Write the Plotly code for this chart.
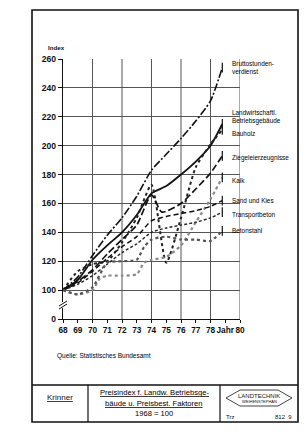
import plotly.graph_objects as go

# ---------------- data ----------------
series_names = ["Bruttostunden-<br>verdienst", "Landwirtschaftl.<br>Betriebsgebäude", "Bauholz",
                "Ziegeleierzeugnisse", "Kalk", "Sand und Kies", "Transportbeton", "Betonstahl"]

years_brutto = [68, 69, 70, 71, 72, 73, 74, 75, 76, 77, 78, 78.8]
vals_brutto = [100, 109, 124, 138, 150, 165, 183, 194, 205, 217, 231, 254]

years_landw = [68, 69, 70, 71, 72, 73, 74, 75, 76, 77, 78, 78.8]
vals_landw = [100, 107, 121, 131, 140, 152, 167, 172, 180, 189, 200, 215]

years_bauholz = [68, 69, 70, 71, 72, 73, 74, 75, 76, 77, 78, 78.8]
vals_bauholz = [100, 113, 118, 120, 133, 150, 173, 119, 150, 185, 201, 211]

years_ziegel = [68, 69, 70, 71, 72, 73, 74, 74.7, 76, 77, 78, 78.8]
vals_ziegel = [100, 106, 114, 125, 135, 145, 166, 154, 160, 170, 181, 193]

years_kalk = [68, 69, 70, 70.5, 71, 72, 73, 73.5, 74, 75, 76, 77, 78, 78.8]
vals_kalk = [100, 97, 100, 108, 110, 110, 111, 119, 121, 123, 131, 147, 163, 178]

years_sand = [68, 69, 70, 71, 72, 73, 74, 75, 76, 77, 78, 78.8]
vals_sand = [100, 105, 113, 122, 130, 137, 148, 151, 153, 155, 158, 162]

years_transp = [68, 69, 70, 71, 72, 73, 74, 75, 76, 77, 78, 78.8]
vals_transp = [100, 104, 110, 118, 126, 132, 140, 143, 145, 147, 150, 154]

years_stahl = [68, 69, 70, 71, 72, 73, 73.5, 74, 75, 76, 77, 78, 78.8]
vals_stahl = [100, 97, 102, 119, 120, 121, 130, 135, 137, 135, 135, 134, 141]

x_tickvals = [68, 69, 70, 71, 72, 73, 74, 75, 76, 77, 78, 79, 80]
x_ticktext = ["68", "69", "70", "71", "72", "73", "74", "75", "76", "77", "78", "Jahr", "80"]
y_tickvals = [80, 100, 120, 140, 160, 180, 200, 220, 240, 260]
y_ticktext = ["0", "100", "120", "140", "160", "180", "200", "220", "240", "260"]

# ---------------- styles ----------------
W, H = 306, 432
L, R, T, B = 63, 66, 59, 113
PW, PH = W - L - R, H - T - B
FONT = "Liberation Sans, Arial, sans-serif"


def px(xp):
    return (xp - L) / PW


def py(yp):
    return (H - B - yp) / PH


styles = [
    dict(color="#111", width=1.6, dash="8px,2px,2px,2px"),
    dict(color="#111", width=1.8, dash="solid"),
    dict(color="#222", width=2.0, dash="dot"),
    dict(color="#111", width=1.7, dash="7px,3px"),
    dict(color="#8a8a8a", width=2.2, dash="dot"),
    dict(color="#111", width=1.5, dash="5px,3px"),
    dict(color="#222", width=1.4, dash="3px,2px"),
    dict(color="#555", width=2.2, dash="dot"),
]
series = [
    (years_brutto, vals_brutto), (years_landw, vals_landw), (years_bauholz, vals_bauholz),
    (years_ziegel, vals_ziegel), (years_kalk, vals_kalk), (years_sand, vals_sand),
    (years_transp, vals_transp), (years_stahl, vals_stahl),
]
label_ypx = [58, 107, 133, 157, 180, 200, 214, 230]

fig = go.Figure()
for (xs, ys), st, name in zip(series, styles, series_names):
    fig.add_trace(go.Scatter(x=xs, y=ys, mode="lines", line=dict(shape="spline", smoothing=0.6, **st),
                             name=name, showlegend=False, hoverinfo="skip"))
    fig.add_trace(go.Scatter(x=[xs[-1]], y=[ys[-1]], mode="markers",
                             marker=dict(symbol="line-ns", size=7, line=dict(width=1.2, color="#111")),
                             showlegend=False, hoverinfo="skip"))

annotations = []
for name, yp in zip(series_names, label_ypx):
    two = "<br>" in name
    annotations.append(dict(x=px(230), y=py(yp - (0 if two else 5)), xref="paper", yref="paper",
                            text=name, showarrow=False, xanchor="left", yanchor="top",
                            align="left", font=dict(family=FONT, size=6.4, color="#000")))

annotations += [
    dict(x=px(46), y=py(48), xref="paper", yref="paper", text="<b>Index</b>", showarrow=False,
         xanchor="left", yanchor="middle", font=dict(family=FONT, size=6.2, color="#111")),
    dict(x=px(55), y=py(356), xref="paper", yref="paper", text="Quelle: Statistisches Bundesamt",
         showarrow=False, xanchor="left", yanchor="middle", font=dict(family=FONT, size=6.5, color="#000")),
    dict(x=px(60), y=py(397), xref="paper", yref="paper", text="<u>Krinner</u>", showarrow=False,
         xanchor="center", yanchor="middle", font=dict(family=FONT, size=8, color="#111")),
    dict(x=px(154), y=py(393), xref="paper", yref="paper", text="<u>Preisindex f. Landw. Betriebsge-</u>",
         showarrow=False, xanchor="center", yanchor="middle", font=dict(family=FONT, size=7.6, color="#000")),
    dict(x=px(154), y=py(403), xref="paper", yref="paper", text="<u>bäude u. Preisbest. Faktoren</u>",
         showarrow=False, xanchor="center", yanchor="middle", font=dict(family=FONT, size=7.6, color="#000")),
    dict(x=px(154), y=py(413), xref="paper", yref="paper", text="1968 = 100",
         showarrow=False, xanchor="center", yanchor="middle", font=dict(family=FONT, size=7.6, color="#000")),
    dict(x=px(259), y=py(395.5), xref="paper", yref="paper", text="LANDTECHNIK",
         showarrow=False, xanchor="center", yanchor="middle", font=dict(family=FONT, size=6, color="#111")),
    dict(x=px(259), y=py(401), xref="paper", yref="paper", text="WEIHENSTEPHAN",
         showarrow=False, xanchor="center", yanchor="middle", font=dict(family=FONT, size=4, color="#111")),
    dict(x=px(224), y=py(417), xref="paper", yref="paper", text="Trz",
         showarrow=False, xanchor="left", yanchor="middle", font=dict(family=FONT, size=6, color="#111")),
    dict(x=px(294), y=py(417), xref="paper", yref="paper", text="812  9",
         showarrow=False, xanchor="right", yanchor="middle", font=dict(family=FONT, size=6, color="#111")),
]

shapes = []
for gx in [70, 72, 74, 76, 78, 80]:
    shapes.append(dict(type="line", xref="x", yref="y", x0=gx, x1=gx, y0=80, y1=260,
                       line=dict(color="#555", width=1), layer="below"))
shapes += [
    dict(type="rect", xref="paper", yref="paper", x0=px(32), x1=px(298), y0=py(422), y1=py(10),
         line=dict(color="#111", width=1.6)),
    dict(type="line", xref="paper", yref="paper", x0=px(32), x1=px(298), y0=py(385), y1=py(385),
         line=dict(color="#111", width=1.4)),
    dict(type="line", xref="paper", yref="paper", x0=px(88), x1=px(88), y0=py(385), y1=py(422),
         line=dict(color="#111", width=1.2)),
    dict(type="line", xref="paper", yref="paper", x0=px(220), x1=px(220), y0=py(385), y1=py(422),
         line=dict(color="#111", width=1.2)),
    dict(type="path", xref="paper", yref="paper",
         path="M {} {} L {} {} L {} {} L {} {} L {} {} L {} {} Z".format(
             px(226), py(398), px(240), py(390), px(278), py(390), px(292), py(398),
             px(278), py(406), px(240), py(406)),
         line=dict(color="#111", width=0.8)),
    dict(type="rect", xref="paper", yref="paper", x0=px(60), x1=px(66), y0=py(308), y1=py(302),
         fillcolor="white", line=dict(width=0)),
    dict(type="line", xref="paper", yref="paper", x0=px(59), x1=px(67), y0=py(306), y1=py(301),
         line=dict(color="#111", width=1)),
    dict(type="line", xref="paper", yref="paper", x0=px(59), x1=px(67), y0=py(309), y1=py(304),
         line=dict(color="#111", width=1)),
]

fig.update_layout(
    width=W, height=H, margin=dict(l=L, r=R, t=T, b=B),
    paper_bgcolor="white", plot_bgcolor="white",
    xaxis=dict(range=[68, 80], tickvals=x_tickvals, ticktext=["<b>" + t + "</b>" for t in x_ticktext],
               showgrid=False, showline=True, linecolor="#111", linewidth=1.4, ticks="outside", ticklen=3,
               tickcolor="#111", zeroline=False, tickangle=0,
               tickfont=dict(family=FONT, size=8.3, color="#111")),
    yaxis=dict(range=[80, 260], tickvals=y_tickvals, ticktext=["<b>" + t + "</b>" for t in y_ticktext],
               showgrid=True, gridcolor="#555", gridwidth=1, showline=True, linecolor="#111", linewidth=1.4,
               ticks="outside", ticklen=4, tickcolor="#111", zeroline=False,
               tickfont=dict(family=FONT, size=8.6, color="#111")),
    annotations=annotations, shapes=shapes,
)
fig.write_html("out.html")
